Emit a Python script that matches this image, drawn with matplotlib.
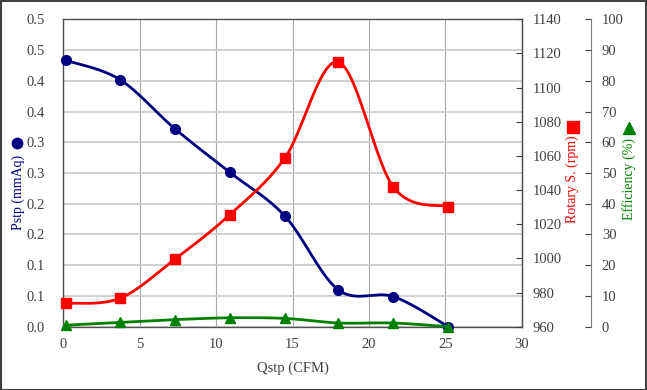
import numpy as np
import matplotlib
matplotlib.use("Agg")
import matplotlib.pyplot as plt
from matplotlib.lines import Line2D
from matplotlib.patches import Rectangle

# ---- data ----
qstp = [0.2, 3.7, 7.3, 10.9, 14.5, 18.0, 21.6, 25.2]
pstp = [0.433, 0.402, 0.322, 0.251, 0.180, 0.060, 0.049, 0.0]
rpm = [973.7, 976.6, 999.5, 1025.6, 1058.8, 1115.0, 1041.8, 1030.3]
eff = [0.5, 1.4, 2.3, 2.9, 2.7, 1.2, 1.2, 0.0]

x_ticks = [0, 5, 10, 15, 20, 25, 30]
p_ticks = [0, 0.05, 0.1, 0.15, 0.2, 0.25, 0.3, 0.35, 0.4, 0.45, 0.5]
p_labels = ["0.0", "0.1", "0.1", "0.2", "0.2", "0.3", "0.3", "0.4", "0.4", "0.5", "0.5"]
rpm_ticks = [960, 980, 1000, 1020, 1040, 1060, 1080, 1100, 1120, 1140]
eff_ticks = [0, 10, 20, 30, 40, 50, 60, 70, 80, 90, 100]

plt.rcParams['font.family'] = ['Liberation Serif', 'DejaVu Sans']
plt.rcParams['font.size'] = 10.5

TXT = '#404040'
NAVY = '#000080'
RED = '#FF0000'
GREEN = '#008000'
TICK_FS = 10.5
TITLE_FS = 10


def smooth(xs, ys, n=30):
    """Excel-like smoothed line via cubic Bezier segments (Catmull-Rom, tension 1/6)."""
    P = np.column_stack([xs, ys]).astype(float)
    m = len(P)
    out = []
    for i in range(m - 1):
        p0 = P[i - 1] if i > 0 else P[i]
        p1 = P[i]
        p2 = P[i + 1]
        p3 = P[i + 2] if i + 2 < m else P[i + 1]
        c1 = p1 + (p2 - p0) / 6.0
        c2 = p2 - (p3 - p1) / 6.0
        t = np.linspace(0, 1, n)[:, None]
        seg = ((1 - t) ** 3) * p1 + 3 * ((1 - t) ** 2) * t * c1 + 3 * (1 - t) * t ** 2 * c2 + t ** 3 * p2
        out.append(seg if i == 0 else seg[1:])
    S = np.vstack(out)
    return S[:, 0], S[:, 1]


W, H = 647, 390
fig = plt.figure(figsize=(W / 100, H / 100), dpi=100)
L, R, T, B = 63.3, 521.7, 19.3, 326.7
ax = fig.add_axes([L / W, (H - B) / H, (R - L) / W, (B - T) / H])

ax.set_xlim(0, 30)
ax.set_ylim(0, 0.5)
ax.set_xticks(x_ticks)
ax.set_yticks(p_ticks)
ax.set_yticklabels(p_labels)
ax.tick_params(axis='both', length=0, colors=TXT, labelsize=TICK_FS)
ax.tick_params(axis='x', pad=8)
ax.tick_params(axis='y', pad=13)
ax.yaxis.grid(True, color='#C8C8C8', lw=1.2)
ax.xaxis.grid(True, color='#A8A8A8', lw=0.8)
ax.set_axisbelow(True)
for s in ax.spines.values():
    s.set_color('#505050')
    s.set_linewidth(1.0)
ax.set_xlabel('Qstp (CFM)', color=TXT, fontsize=TITLE_FS + 0.5, labelpad=8)

ax2 = ax.twinx()
ax2.set_ylim(960, 1140)
ax2.set_yticks(rpm_ticks)
ax2.tick_params(axis='y', direction='in', length=4, colors=TXT, labelsize=TICK_FS, pad=8)
ax2.spines['right'].set_color('#505050')

ax3 = ax.twinx()
ax3.spines['right'].set_position(('axes', (590.7 - L) / (R - L)))
ax3.set_ylim(0, 100)
ax3.set_yticks(eff_ticks)
ax3.tick_params(axis='y', direction='in', length=4, colors=TXT, labelsize=TICK_FS, pad=8)
ax3.spines['right'].set_color('#7F7F7F')
for a in (ax2, ax3):
    for k in ('top', 'left', 'bottom'):
        a.spines[k].set_visible(False)

# series
sx, sy = smooth(qstp, pstp)
ax.plot(sx, sy, color=NAVY, lw=2, zorder=3, clip_on=False)
ax.plot(qstp, pstp, 'o', color=NAVY, ms=7, zorder=4, clip_on=False)

sx, sy = smooth(qstp, rpm)
ax2.plot(sx, sy, color=RED, lw=2, zorder=3, clip_on=False)
ax2.plot(qstp, rpm, 's', color=RED, ms=6.5, zorder=4, clip_on=False)

sx, sy = smooth(qstp, eff)
ax3.plot(sx, sy, color=GREEN, lw=2, zorder=3, clip_on=False)
ax3.plot(qstp, eff, '^', color=GREEN, ms=7, zorder=4, clip_on=False)

# axis titles with symbols
fig.text(18 / W, 1 - 192.5 / H, 'Pstp (mmAq)', rotation=90, color=NAVY,
         ha='center', va='center', fontsize=TITLE_FS)
fig.add_artist(Line2D([17.3 / W], [1 - 143 / H], marker='o', color=NAVY, ms=7.5,
                      transform=fig.transFigure))
fig.text(572.3 / W, 1 - 179.5 / H, 'Rotary S. (rpm)', rotation=90, color=RED,
         ha='center', va='center', fontsize=TITLE_FS)
fig.add_artist(Line2D([572.7 / W], [1 - 127 / H], marker='s', color=RED, ms=8.5,
                      transform=fig.transFigure))
fig.text(629 / W, 1 - 179.5 / H, 'Efficiency (%)', rotation=90, color=GREEN,
         ha='center', va='center', fontsize=TITLE_FS)
fig.add_artist(Line2D([629.3 / W], [1 - 128 / H], marker='^', color=GREEN, ms=8.5,
                      transform=fig.transFigure))

fig.add_artist(Rectangle((0.5 / W, 0.5 / H), 1 - 1.5 / W, 1 - 1.5 / H, fill=False,
                         edgecolor='#404040', lw=1.5, transform=fig.transFigure))

fig.savefig('out.png', dpi=100)
